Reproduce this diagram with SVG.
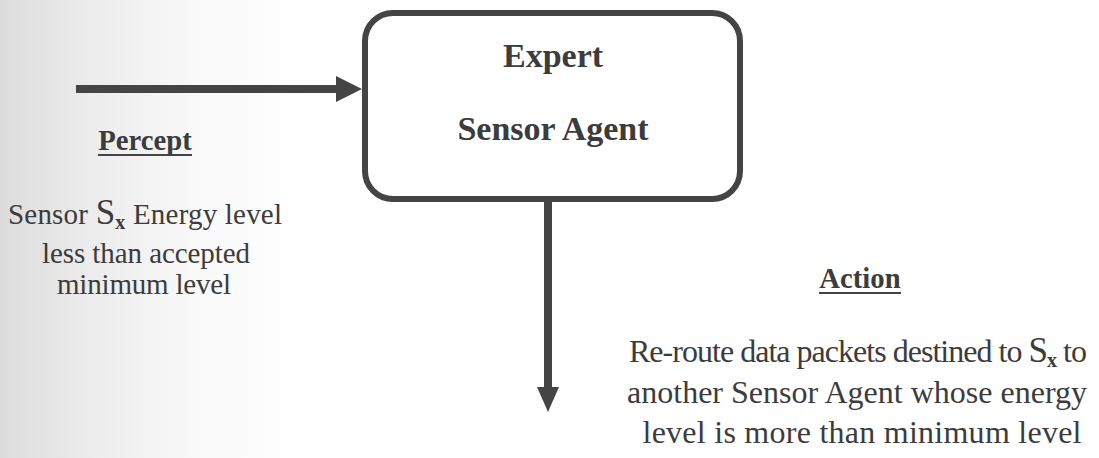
<svg xmlns="http://www.w3.org/2000/svg" width="1099" height="458" viewBox="0 0 1099 458">
<style>
text{font-family:"Liberation Serif","Times New Roman",Times,"DejaVu Serif",serif;fill:#3c3c3c}
.title{font-size:34px;font-weight:bold;text-anchor:middle}
.head{font-size:28.7px;font-weight:bold;text-anchor:middle}
.p{font-size:29px;text-anchor:middle}
.a{font-size:32px;text-anchor:middle}
.bigS{font-size:35px}
.sub{font-size:20px;font-weight:bold}
.edge{stroke:#444;stroke-width:8;fill:none}
.ul{stroke:#444;stroke-width:2}
</style>
<defs>
<linearGradient id="bg" x1="0" y1="0" x2="1" y2="0">
<stop offset="0" stop-color="#dcdcdc"/>
<stop offset="0.08" stop-color="#ececec"/>
<stop offset="0.18" stop-color="#f9f9f9"/>
<stop offset="0.28" stop-color="#ffffff"/>
</linearGradient>
</defs>
<rect x="0" y="0" width="1099" height="458" fill="url(#bg)"/>
<g id="connectors">
<line class="edge" x1="76" y1="89" x2="340" y2="89"/>
<polygon points="336,76 362,89 336,102" fill="#444"/>
<line class="edge" x1="548" y1="200" x2="548" y2="392"/>
<polygon points="537,387 559,387 548,412" fill="#444"/>
</g>
<g id="expert-sensor-agent">
<rect x="365" y="13" width="375" height="186" rx="28" ry="28" fill="#ffffff" stroke="#444" stroke-width="6"/>
<text class="title" x="553" y="67">Expert</text>
<text class="title" x="553" y="140">Sensor Agent</text>
</g>
<g id="percept">
<text class="head" x="145" y="150">Percept</text>
<line class="ul" x1="98" y1="155" x2="192" y2="155"/>
<text class="p" x="145" y="224" textLength="274" lengthAdjust="spacing">Sensor <tspan class="bigS">S</tspan><tspan class="sub" dy="5">x</tspan><tspan dy="-5"> Energy level</tspan></text>
<text class="p" x="146" y="263" textLength="208" lengthAdjust="spacing">less than accepted</text>
<text class="p" x="144" y="294" textLength="174" lengthAdjust="spacing">minimum level</text>
</g>
<g id="action">
<text class="head" x="860" y="288">Action</text>
<line class="ul" x1="819" y1="293" x2="901" y2="293"/>
<text class="a" x="858" y="362" textLength="458" lengthAdjust="spacing">Re-route data packets destined to <tspan class="bigS">S</tspan><tspan class="sub" dy="5">x</tspan><tspan dy="-5"> to</tspan></text>
<text class="a" x="857" y="403" textLength="460" lengthAdjust="spacing">another Sensor Agent whose energy</text>
<text class="a" x="862" y="443" textLength="439" lengthAdjust="spacing">level is more than minimum level</text>
</g>
</svg>
